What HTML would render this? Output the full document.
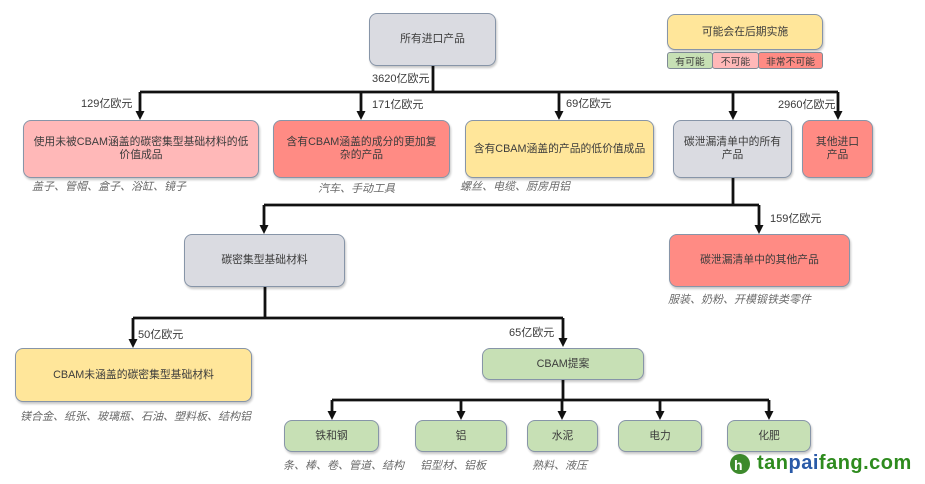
<!DOCTYPE html>
<html><head><meta charset="utf-8">
<style>
html,body{margin:0;padding:0;background:#fff;}
#c{position:relative;width:925px;height:484px;overflow:hidden;background:#fff;font-family:"Liberation Sans","Noto Sans CJK SC",sans-serif;}
.b{position:absolute;box-sizing:border-box;border:1.5px solid #8795a8;border-radius:8px;display:flex;align-items:center;justify-content:center;text-align:center;font-size:10.8px;line-height:13px;color:#3c3c3c;box-shadow:1px 2px 2px rgba(0,0,0,0.22);white-space:nowrap;}
.g{background:#dadbe1;}
.p{background:#ffb8b8;}
.r{background:#ff8b84;}
.y{background:#ffe69a;}
.gr{background:#c7e0b5;}
.l{position:absolute;font-size:11px;color:#3a3a3a;white-space:nowrap;line-height:12px;}
.cap{position:absolute;font-size:11px;color:#6a6a6a;font-style:italic;white-space:nowrap;line-height:12px;}
.s{position:absolute;box-sizing:border-box;border:1.5px solid #7f8a96;border-radius:3px;display:flex;align-items:center;justify-content:center;font-size:9.8px;color:#3c3c3c;white-space:nowrap;}
svg{position:absolute;left:0;top:0;}
</style></head><body>
<div id="c">
<svg width="925" height="484" viewBox="0 0 925 484">
<g stroke="#111" stroke-width="2.8" fill="none">
<path d="M433 66 V92 M140 92 H838 M140 92 V113 M361 92 V113 M559 92 V113 M733 92 V113 M838 92 V113"/>
<path d="M733 178 V205 M264 205 H759 M264 205 V227 M759 205 V227"/>
<path d="M265 287 V318 M133 318 H563 M133 318 V341 M563 318 V340"/>
<path d="M563 380 V400 M332 400 H769 M332 400 V413 M461 400 V413 M562 400 V413 M660 400 V413 M769 400 V413"/>
</g>
<g fill="#111">
<path d="M135.5 111 H144.5 L140 120 Z"/>
<path d="M356.5 111 H365.5 L361 120 Z"/>
<path d="M554.5 111 H563.5 L559 120 Z"/>
<path d="M728.5 111 H737.5 L733 120 Z"/>
<path d="M833.5 111 H842.5 L838 120 Z"/>
<path d="M259.5 225 H268.5 L264 234 Z"/>
<path d="M754.5 225 H763.5 L759 234 Z"/>
<path d="M128.5 339 H137.5 L133 348 Z"/>
<path d="M558.5 338 H567.5 L563 347 Z"/>
<path d="M327.5 411 H336.5 L332 420 Z"/>
<path d="M456.5 411 H465.5 L461 420 Z"/>
<path d="M557.5 411 H566.5 L562 420 Z"/>
<path d="M655.5 411 H664.5 L660 420 Z"/>
<path d="M764.5 411 H773.5 L769 420 Z"/>
</g>
<circle cx="740" cy="464" r="10" fill="#3d8a2c"/>
<text x="734" y="470" font-family="Liberation Sans" font-weight="bold" font-size="14" fill="#fff">h</text>
</svg>

<!-- top -->
<div class="b g" style="left:369px;top:13px;width:127px;height:53px;">所有进口产品</div>

<!-- legend -->
<div class="b y" style="left:667px;top:14px;width:156px;height:36px;">可能会在后期实施</div>
<div class="s" style="left:667px;top:52px;width:46px;height:17px;background:#c7e0b5;">有可能</div>
<div class="s" style="left:712px;top:52px;width:47px;height:17px;background:#ffb8b8;">不可能</div>
<div class="s" style="left:758px;top:52px;width:65px;height:17px;background:#ff8b84;">非常不可能</div>

<!-- labels -->
<div class="l" style="left:372px;top:73px;">3620亿欧元</div>
<div class="l" style="left:81px;top:98px;">129亿欧元</div>
<div class="l" style="left:372px;top:99px;">171亿欧元</div>
<div class="l" style="left:566px;top:98px;">69亿欧元</div>
<div class="l" style="left:778px;top:99px;">2960亿欧元</div>
<div class="l" style="left:770px;top:213px;">159亿欧元</div>
<div class="l" style="left:138px;top:329px;">50亿欧元</div>
<div class="l" style="left:509px;top:327px;">65亿欧元</div>

<!-- row 2 -->
<div class="b p" style="left:23px;top:120px;width:236px;height:58px;">使用未被CBAM涵盖的碳密集型基础材料的低<br>价值成品</div>
<div class="b r" style="left:273px;top:120px;width:177px;height:58px;">含有CBAM涵盖的成分的更加复<br>杂的产品</div>
<div class="b y" style="left:465px;top:120px;width:189px;height:58px;">含有CBAM涵盖的产品的低价值成品</div>
<div class="b g" style="left:673px;top:120px;width:119px;height:58px;">碳泄漏清单中的所有<br>产品</div>
<div class="b r" style="left:802px;top:120px;width:71px;height:58px;">其他进口<br>产品</div>

<div class="cap" style="left:32px;top:181px;">盖子、管帽、盒子、浴缸、镜子</div>
<div class="cap" style="left:318px;top:183px;">汽车、手动工具</div>
<div class="cap" style="left:460px;top:181px;">螺丝、电缆、厨房用铝</div>

<!-- row 3 -->
<div class="b g" style="left:184px;top:234px;width:161px;height:53px;">碳密集型基础材料</div>
<div class="b r" style="left:669px;top:234px;width:181px;height:53px;">碳泄漏清单中的其他产品</div>
<div class="cap" style="left:668px;top:294px;">服装、奶粉、开模锻铁类零件</div>

<!-- row 4 -->
<div class="b y" style="left:15px;top:348px;width:237px;height:54px;">CBAM未涵盖的碳密集型基础材料</div>
<div class="cap" style="left:20px;top:411px;">镁合金、纸张、玻璃瓶、石油、塑料板、结构铝</div>
<div class="b gr" style="left:482px;top:348px;width:162px;height:32px;">CBAM提案</div>

<!-- row 5 -->
<div class="b gr" style="left:284px;top:420px;width:95px;height:32px;">铁和钢</div>
<div class="b gr" style="left:415px;top:420px;width:92px;height:32px;">铝</div>
<div class="b gr" style="left:527px;top:420px;width:71px;height:32px;">水泥</div>
<div class="b gr" style="left:618px;top:420px;width:84px;height:32px;">电力</div>
<div class="b gr" style="left:727px;top:420px;width:84px;height:32px;">化肥</div>

<div class="cap" style="left:283px;top:460px;">条、棒、卷、管道、结构</div>
<div class="cap" style="left:420px;top:460px;">铝型材、铝板</div>
<div class="cap" style="left:532px;top:460px;">熟料、液压</div>

<!-- watermark -->
<div style="position:absolute;left:757px;top:451px;font-family:'Liberation Sans',sans-serif;font-weight:bold;font-size:20px;letter-spacing:0.5px;line-height:24px;white-space:nowrap;"><span style="color:#2e8b1e">tan</span><span style="color:#2a5aa8">pai</span><span style="color:#2e8b1e">fang.com</span></div>
</div>
</body></html>
